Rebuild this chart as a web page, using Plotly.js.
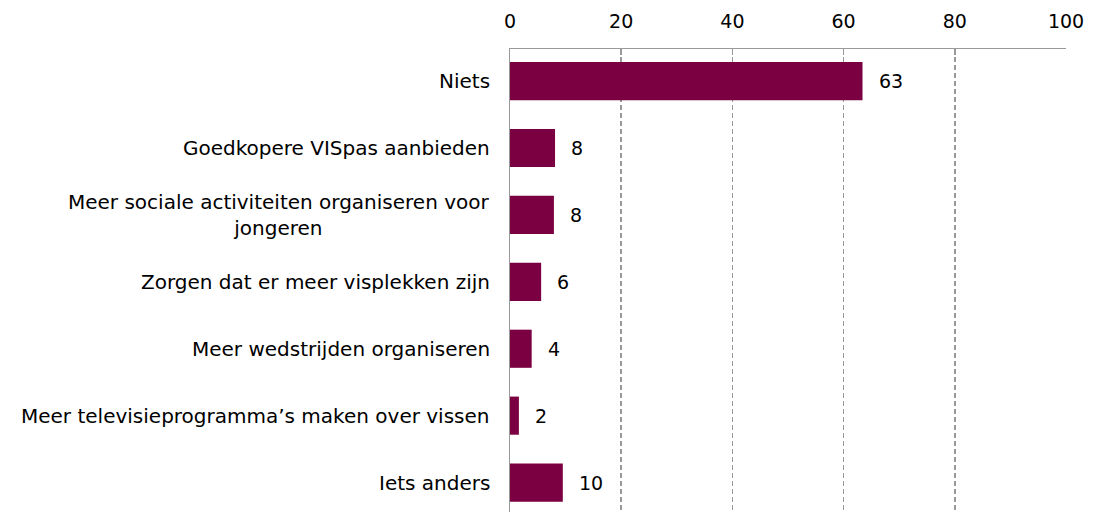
<!DOCTYPE html>
<html>
<head>
<meta charset="utf-8">
<script src="https://cdn.plot.ly/plotly-3.0.1.min.js"></script>
<style>html,body{margin:0;padding:0;background:#fff;}#chart{width:1094px;height:512px;}</style>
</head>
<body>
<div id="chart"></div>
<script>
var categories = [
  "Niets",
  "Goedkopere VISpas aanbieden",
  "Meer sociale activiteiten organiseren voor<br>jongeren",
  "Zorgen dat er meer visplekken zijn",
  "Meer wedstrijden organiseren",
  "Meer televisieprogramma’s maken over vissen",
  "Iets anders"
];
var values = [63.4, 8.1, 7.9, 5.6, 3.9, 1.6, 9.5];
var valueLabels = ["63", "8", "8", "6", "4", "2", "10"];
var xTicks = [0, 20, 40, 60, 80, 100];

var font = "DejaVu Sans, Verdana, sans-serif";

var trace = {
  type: "bar",
  orientation: "h",
  x: values,
  y: categories,
  marker: {color: "#7B0041", line: {width: 0}},
  hoverinfo: "none"
};

var annotations = categories.map(function (c) {
  return {
    xref: "paper", yref: "y", x: 0, y: c,
    xanchor: "right", yanchor: "middle", xshift: -18,
    text: c, showarrow: false, align: "center",
    font: {family: font, size: 20, color: "#000"}
  };
}).concat(categories.map(function (c, i) {
  return {
    xref: "x", yref: "y", x: values[i], y: c,
    xanchor: "left", yanchor: "middle", xshift: 14,
    text: valueLabels[i], showarrow: false,
    font: {family: font, size: 19, color: "#000"}
  };
}));

var layout = {
  width: 1094, height: 512,
  margin: {l: 510, r: 28, t: 49, b: 0, pad: 0},
  paper_bgcolor: "#fff", plot_bgcolor: "#fff",
  showlegend: false,
  bargap: 0.43,
  xaxis: {
    side: "top", range: [0, 100], tickvals: xTicks,
    showgrid: true, gridcolor: "#999", griddash: "5px,3px", gridwidth: 1.5,
    showline: true, linecolor: "#999", linewidth: 1.5,
    ticks: "inside", ticklen: 6, tickcolor: "#999", tickwidth: 1.5,
    ticklabelstandoff: 12,
    zeroline: false,
    tickfont: {family: font, size: 19, color: "#000"}
  },
  yaxis: {
    type: "category", range: [6.44, -0.48],
    showticklabels: false, ticks: "",
    showline: true, linecolor: "#999", linewidth: 1.5,
    showgrid: false, zeroline: false
  },
  annotations: annotations
};

Plotly.newPlot("chart", [trace], layout, {displayModeBar: false, staticPlot: true});
</script>
</body>
</html>
